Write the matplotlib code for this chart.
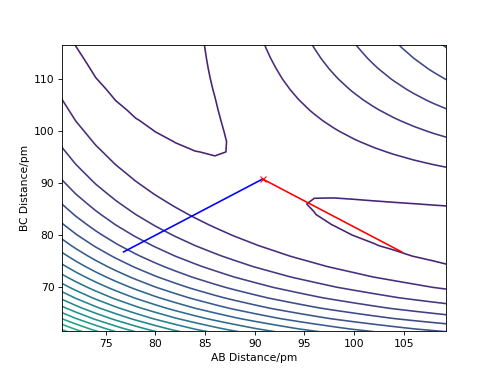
import numpy as np
import matplotlib
matplotlib.use("Agg")
import matplotlib.pyplot as plt

# Parametros del potencial LEPS (H + H2), energias en kJ/mol, distancias en pm
De = 458.0
beta = 0.0194
re = 74.1
k_sato = 0.2

# Estado de transicion y direcciones de los modos normales
ts_ab = 90.8
ts_bc = 90.8
blue_ab = [76.8, 90.8]
blue_bc = [76.8, 90.8]
red_ab = [90.8, 104.8]
red_bc = [90.8, 76.8]

# Niveles de contorno (relativos al estado de transicion)
level_offset = -0.35
level_step = 10.5
level_index = np.arange(-3, 29)


def coulomb_exchange(r):
    e = np.exp(-beta * (r - re))
    c = De / (4 * (1 + k_sato))
    Q = c * ((3 + k_sato) * e**2 - (2 + 6 * k_sato) * e)
    J = c * ((1 + 3 * k_sato) * e**2 - (6 + 2 * k_sato) * e)
    return Q, J


def leps(r1, r2):
    Q1, J1 = coulomb_exchange(r1)
    Q2, J2 = coulomb_exchange(r2)
    Q3, J3 = coulomb_exchange(r1 + r2)
    return Q1 + Q2 + Q3 - np.sqrt(0.5 * ((J1 - J2)**2 + (J2 - J3)**2 + (J3 - J1)**2))


# Malla
r_ab = np.arange(60, 122, 2.0)
r_bc = np.arange(54, 122, 2.0)
X, Y = np.meshgrid(r_ab, r_bc)
V = leps(X, Y)

v_ts = leps(ts_ab, ts_bc)
levels = v_ts + level_offset + level_step * level_index

fig, ax = plt.subplots(figsize=(6.4, 4.8), dpi=77.5)
ax.contour(X, Y, V, levels=levels, cmap="viridis")

ax.plot(blue_ab, blue_bc, color="blue")
ax.plot(red_ab, red_bc, color="red")
ax.plot(ts_ab, ts_bc, "x", color="red")

ax.set_xlim(70.6, 109.3)
ax.set_ylim(61.6, 116.6)
ax.set_xlabel("AB Distance/pm")
ax.set_ylabel("BC Distance/pm")

fig.savefig("out.png", dpi=77.5)
